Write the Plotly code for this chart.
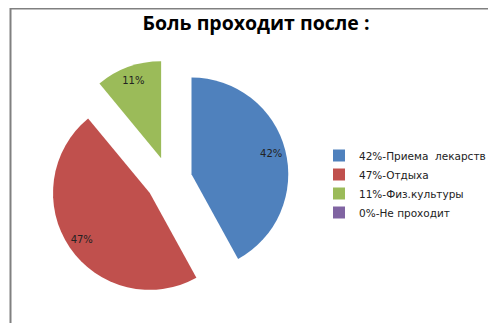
import plotly.graph_objects as go

labels = ["42%-Приема  лекарств", "47%-Отдыха", "11%-Физ.культуры", "0%-Не проходит"]
values = [42, 47, 11, 0]
slice_text = ["42%", "47%", "11%", ""]
colors = ["#4F81BD", "#C0504D", "#9BBB59", "#8064A2"]
title_text = "Боль проходит после :"

W, H = 496, 323
dom = dict(x=[41 / W, 281 / W], y=[1 - 292 / H, 1 - 52 / H])
pulls = [0.24, 0.24, 0.24, 0.24]

fig = go.Figure()
fig.add_trace(go.Pie(
    labels=labels,
    values=values,
    textinfo="none",
    marker=dict(colors=colors, line=dict(width=0)),
    sort=False,
    direction="clockwise",
    rotation=0,
    pull=pulls,
    domain=dom,
    hoverinfo="label+percent",
    showlegend=True,
))
# transparent ring used only to place the percentage labels further out
fig.add_trace(go.Pie(
    labels=labels,
    values=values,
    text=slice_text,
    textinfo="text",
    textposition="inside",
    insidetextorientation="horizontal",
    textfont=dict(family="DejaVu Sans", size=10, color="#222222"),
    marker=dict(colors=["rgba(0,0,0,0)"] * 4, line=dict(width=0)),
    hole=0.7,
    sort=False,
    direction="clockwise",
    rotation=0,
    pull=pulls,
    domain=dom,
    hoverinfo="skip",
    showlegend=False,
))

fig.update_layout(
    width=W, height=H,
    margin=dict(l=0, r=0, t=0, b=0),
    paper_bgcolor="white",
    plot_bgcolor="white",
    title=dict(text="<b>" + title_text + "</b>", x=0.5, xanchor="center",
               y=1 - 15 / H, yanchor="middle",
               font=dict(family="Open Sans", size=19.5, color="#000000")),
    legend=dict(x=311 / W, xanchor="left", y=1 - 133 / H, yanchor="top",
                font=dict(family="DejaVu Sans", size=10.5, color="#222222"),
                tracegroupgap=0, itemwidth=30, bgcolor="rgba(0,0,0,0)"),
    shapes=[dict(type="rect", xref="paper", yref="paper",
                 x0=2.5 / W, x1=493.5 / W, y0=-0.05, y1=1 - 0.5 / H,
                 line=dict(color="#808080", width=2), fillcolor="rgba(0,0,0,0)", layer="above")],
)

fig.write_html("out.html")
